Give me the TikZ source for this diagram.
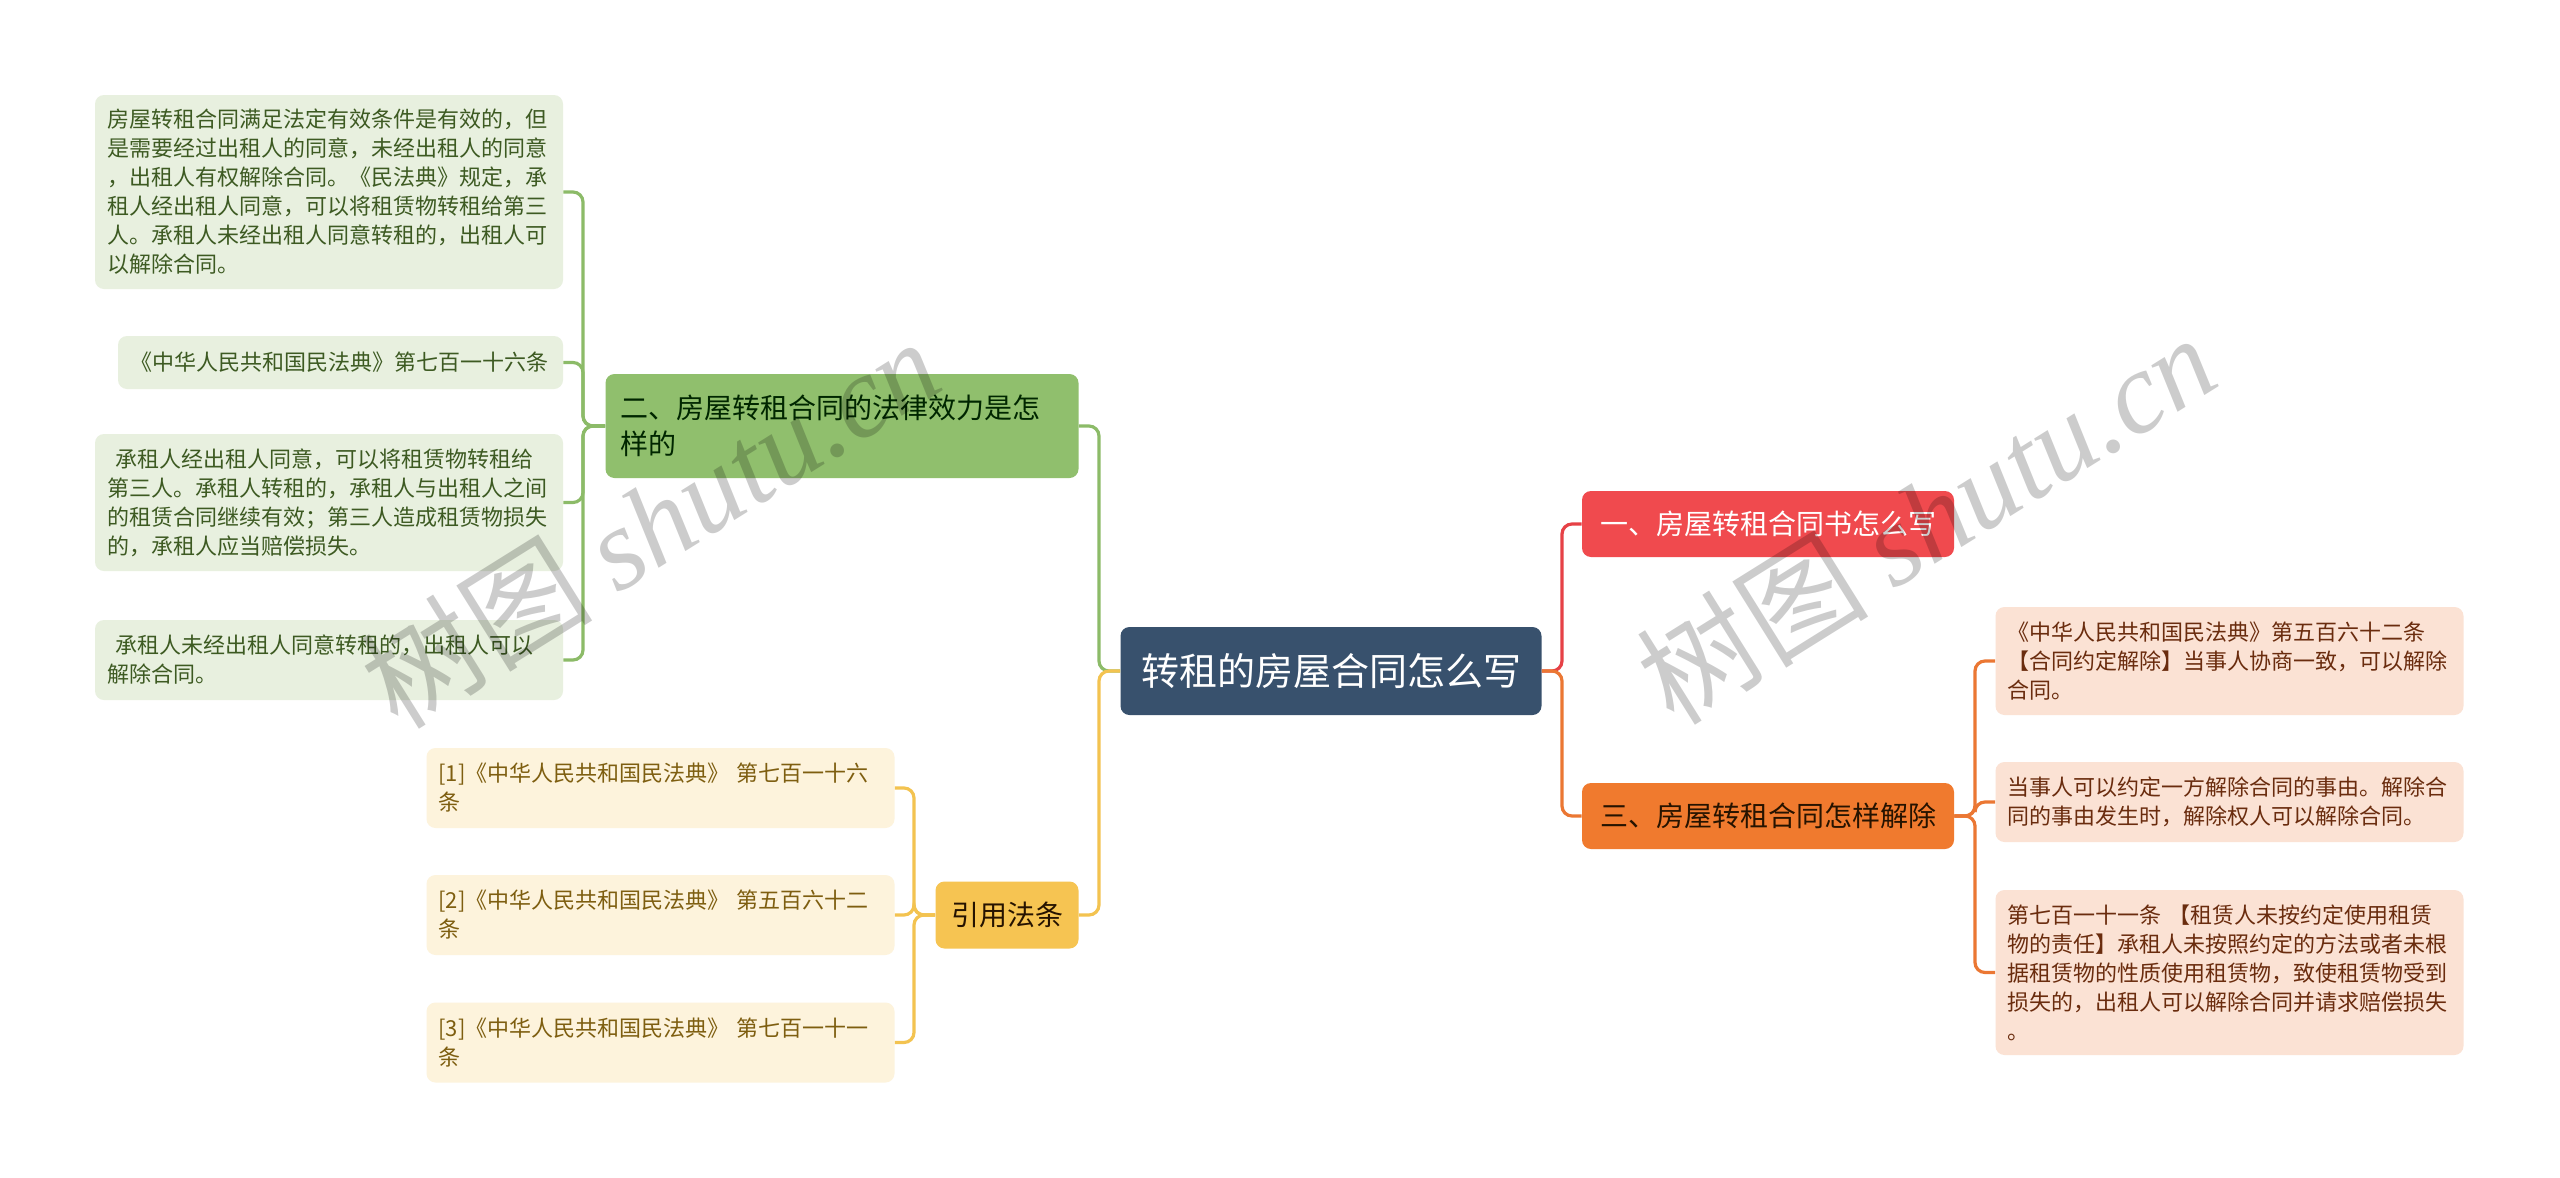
\documentclass[tikz,border=0pt]{standalone}
\usepackage{fontspec}
\setmainfont{Noto Sans CJK SC}
\newfontfamily\wmlatin{Liberation Serif}
\usetikzlibrary{calc}

\definecolor{rootfill}{HTML}{38516D}
\definecolor{redfill}{HTML}{F04A4E}
\definecolor{orangefill}{HTML}{F07A2E}
\definecolor{greenfill}{HTML}{90BF6D}
\definecolor{citefill}{HTML}{F6C452}
\definecolor{leafgfill}{HTML}{E8F0DF}
\definecolor{leafgtext}{HTML}{3D5A22}
\definecolor{leafcfill}{HTML}{FDF3DC}
\definecolor{leafctext}{HTML}{7E5E10}
\definecolor{leaforfill}{HTML}{FBE2D4}
\definecolor{leafortext}{HTML}{6A2C0E}
\definecolor{linegreen}{HTML}{8CBB68}
\definecolor{lineyellow}{HTML}{F3C350}
\definecolor{linered}{HTML}{E64146}
\definecolor{lineorange}{HTML}{EB7733}

\newcommand{\leaffont}{\fontsize{11pt}{14.5pt}\selectfont}
\newcommand{\branchfont}{\fontsize{14pt}{18pt}\selectfont}
\newcommand{\rootfont}{\fontsize{19pt}{23pt}\selectfont}
\newcommand{\indt}{\hspace*{0.4em}}

\tikzset{
  box/.style={rounded corners=4.5pt, inner ysep=2pt},
  leafbase/.style={box, inner xsep=6pt, align=left, font=\leaffont, text width=222pt},
  leafg/.style={leafbase, fill=leafgfill, text=leafgtext},
  leafc/.style={leafbase, fill=leafcfill, text=leafctext},
  leafo/.style={leafbase, fill=leaforfill, text=leafortext},
  rootbox/.style={box, fill=rootfill, text=white, font=\rootfont, minimum width=210.5pt, minimum height=44pt, align=center},
  bonebox/.style={box, fill=redfill, text=white, font=\branchfont, minimum width=186pt, minimum height=33pt, align=center},
  bthreebox/.style={box, fill=orangefill, text=black!85!orange, font=\branchfont, minimum width=186pt, minimum height=33pt, align=center},
  btwobox/.style={box, fill=greenfill, text=black!85!green, font=\branchfont, inner xsep=7.5pt, text width=221.5pt, minimum height=52pt, align=left},
  bcitebox/.style={box, fill=citefill, text=black!85!orange, font=\branchfont, minimum width=71.5pt, minimum height=33.5pt, align=center},
  conn/.style={line width=1.6pt, rounded corners=5pt},
  wm/.style={text=black, opacity=0.2, font=\fontsize{58pt}{58pt}\selectfont, inner sep=0pt}
}

\begin{document}
\begin{tikzpicture}[x=0.5pt,y=-0.5pt]
\fill[white] (0,0) rectangle (2560,1178);
\useasboundingbox (0,0) rectangle (2560,1178);

% main nodes
\node[rootbox] (root) at (1331,671) {转租的房屋合同怎么写};
\node[bonebox] (b1) at (1768,524) {一、房屋转租合同书怎么写};
\node[bthreebox] (b3) at (1768,816) {三、房屋转租合同怎样解除};
\node[btwobox] (b2) at (842,426) {二、房屋转租合同的法律效力是怎\\样的};
\node[bcitebox] (bc) at (1007,915) {引用法条};

% left green leaves
\node[leafg, minimum height=97pt] (l1) at (329,192) {房屋转租合同满足法定有效条件是有效的，但\\是需要经过出租人的同意，未经出租人的同意\\，出租人有权解除合同。《民法典》规定，承\\租人经出租人同意，可以将租赁物转租给第三\\人。承租人未经出租人同意转租的，出租人可\\以解除合同。};
\node[leafg, text width=210.5pt, minimum height=26.5pt] (l2) at (340.5,362.5) {《中华人民共和国民法典》第七百一十六条};
\node[leafg, minimum height=68.5pt] (l3) at (329,502.5) {\indt 承租人经出租人同意，可以将租赁物转租给\\第三人。承租人转租的，承租人与出租人之间\\的租赁合同继续有效；第三人造成租赁物损失\\的，承租人应当赔偿损失。};
\node[leafg, minimum height=40pt] (l4) at (329,660) {\indt 承租人未经出租人同意转租的，出租人可以\\解除合同。};

% citation leaves
\node[leafc, minimum height=40pt] (c1) at (660.5,788) {[1]《中华人民共和国民法典》 第七百一十六\\条};
\node[leafc, minimum height=40pt] (c2) at (660.5,915) {[2]《中华人民共和国民法典》 第五百六十二\\条};
\node[leafc, minimum height=40pt] (c3) at (660.5,1042.5) {[3]《中华人民共和国民法典》 第七百一十一\\条};

% right leaves
\node[leafo, minimum height=54pt] (r1) at (2229.5,661) {《中华人民共和国民法典》第五百六十二条\\【合同约定解除】当事人协商一致，可以解除\\合同。};
\node[leafo, minimum height=40pt] (r2) at (2229.5,802) {当事人可以约定一方解除合同的事由。解除合\\同的事由发生时，解除权人可以解除合同。};
\node[leafo, minimum height=82.5pt] (r3) at (2229.5,972.5) {第七百一十一条 【租赁人未按约定使用租赁\\物的责任】承租人未按照约定的方法或者未根\\据租赁物的性质使用租赁物，致使租赁物受到\\损失的，出租人可以解除合同并请求赔偿损失\\。};

% bus coordinates
\coordinate (busL) at (1099,0);
\coordinate (busR) at (1562,0);
\coordinate (busG) at (583,0);
\coordinate (busY) at (914,0);
\coordinate (busO) at (1975,0);

% connectors
\draw[conn, linegreen] (root.west) -- (root.west -| busL) |- (b2.east);
\draw[conn, lineyellow] (root.west) -- (root.west -| busL) |- (bc.east);
\draw[conn, linered] (root.east) -- (root.east -| busR) |- (b1.west);
\draw[conn, lineorange] (root.east) -- (root.east -| busR) |- (b3.west);
\foreach \n in {l1,l2,l3,l4}
  \draw[conn, linegreen] (b2.west) -- (b2.west -| busG) |- (\n.east);
\foreach \n in {c1,c2,c3}
  \draw[conn, lineyellow] (bc.west) -- (bc.west -| busY) |- (\n.east);
\foreach \n in {r1,r2,r3}
  \draw[conn, lineorange] (b3.east) -- (b3.east -| busO) |- (\n.west);

% watermarks
\node[wm, rotate=32] (wm1) at (650,522) {树图 {\wmlatin\itshape shutu.cn}};
\node[wm, rotate=32] (wm2) at (1926,518) {树图 {\wmlatin\itshape shutu.cn}};
\end{tikzpicture}
\end{document}
